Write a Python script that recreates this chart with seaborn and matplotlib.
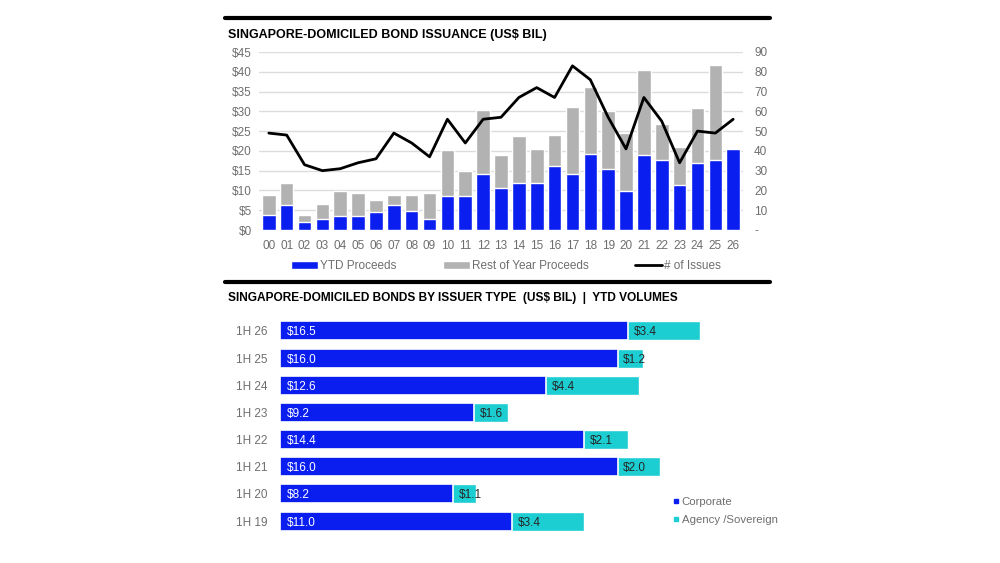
import numpy as np
import pandas as pd
import matplotlib
matplotlib.use("Agg")
import matplotlib.pyplot as plt
from matplotlib.patches import Patch
from matplotlib.lines import Line2D
import seaborn as sns

# ---------------- data ----------------
years = ["00", "01", "02", "03", "04", "05", "06", "07", "08", "09", "10", "11", "12",
         "13", "14", "15", "16", "17", "18", "19", "20", "21", "22", "23", "24", "25", "26"]
ytd_proceeds = [3.8, 6.3, 1.9, 2.9, 3.5, 3.5, 4.5, 6.3, 4.7, 2.7, 8.5, 8.6, 14.1,
                10.7, 11.9, 11.9, 16.1, 14.1, 19.3, 15.5, 9.8, 18.9, 17.8, 11.3, 16.9, 17.7, 20.6]
rest_of_year = [5.0, 5.6, 1.9, 3.6, 6.3, 5.8, 3.2, 2.6, 4.1, 6.6, 11.7, 6.4, 16.2,
                8.2, 11.9, 8.6, 8.0, 16.9, 16.9, 14.7, 14.8, 21.6, 9.1, 9.7, 14.0, 24.0, 0.0]
num_issues = [49, 48, 33, 30, 31, 34, 36, 49, 44, 37, 56, 44, 56,
              57, 67, 72, 67, 83, 76, 57, 41, 67, 55, 34, 50, 49, 56]

periods = ["1H 26", "1H 25", "1H 24", "1H 23", "1H 22", "1H 21", "1H 20", "1H 19"]
corporate = [16.5, 16.0, 12.6, 9.2, 14.4, 16.0, 8.2, 11.0]
agency = [3.4, 1.2, 4.4, 1.6, 2.1, 2.0, 1.1, 3.4]

# ---------------- style ----------------
BLUE = "#0A1EF0"
GRAY = "#B2B2B2"
CYAN = "#1CCDD2"
TXT = "#6E6E6E"
GRID = "#DCDCDC"

sns.set_theme(style="white")
plt.rcParams["font.family"] = ["Liberation Sans", "DejaVu Sans"]
plt.rcParams["font.size"] = 8

W, H = 1000, 563
fig = plt.figure(figsize=(10, 5.63), dpi=100)


def fx(px):
    return px / W


def fy(py):
    return 1 - py / H


# ---------------- top chart ----------------
df_top = pd.DataFrame({"year": years, "ytd": ytd_proceeds, "rest": rest_of_year})
df_top["total"] = df_top["ytd"] + df_top["rest"]

ax = fig.add_axes([fx(259), fy(230), fx(743) - fx(259), fy(52) - fy(230)])
sns.barplot(data=df_top, x="year", y="total", color=GRAY, width=0.76,
            saturation=1, ax=ax, zorder=2)
sns.barplot(data=df_top, x="year", y="ytd", color=BLUE, width=0.76,
            saturation=1, ax=ax, zorder=3)
ax.set_ylim(0, 45)
ax.set_xlim(-0.55, len(years) - 0.45)
ax.set_yticks(np.arange(0, 46, 5))
ax.set_yticklabels([f"${v}" for v in range(0, 46, 5)])
ax.yaxis.grid(True, color=GRID, linewidth=1, zorder=0)
ax.set_axisbelow(True)
ax.set_xlabel("")
ax.set_ylabel("")
for s in ax.spines.values():
    s.set_visible(False)
ax.tick_params(axis="both", length=0, colors=TXT, labelsize=8.5)
ax.tick_params(axis="x", pad=7)
ax.tick_params(axis="y", pad=5)

ax2 = ax.twinx()
sns.lineplot(x=np.arange(len(years)), y=num_issues, color="black", linewidth=2,
             ax=ax2, zorder=5)
ax2.set_ylim(0, 90)
ax2.set_yticks(np.arange(0, 91, 10))
ax2.set_yticklabels(["-"] + [str(v) for v in range(10, 91, 10)])
ax2.set_xlim(-0.55, len(years) - 0.45)
for s in ax2.spines.values():
    s.set_visible(False)
ax2.tick_params(axis="y", length=0, colors=TXT, labelsize=8.5, pad=8)
ax2.grid(False)

handles = [Patch(facecolor=BLUE), Patch(facecolor=GRAY),
           Line2D([], [], color="black", linewidth=2)]
fig.legend(handles, ["YTD Proceeds", "Rest of Year Proceeds", "# of Issues"],
           ncol=3, loc="center", bbox_to_anchor=(fx(506), fy(266)), frameon=False,
           fontsize=8.5, labelcolor=TXT, handlelength=2.3, handleheight=0.7,
           handletextpad=0.2, columnspacing=3.9)

# rules and titles
fig.add_artist(Line2D([fx(225), fx(770)], [fy(18), fy(18)], color="black", linewidth=3))
fig.add_artist(Line2D([fx(225), fx(770)], [fy(282), fy(282)], color="black", linewidth=3))
fig.text(fx(228), fy(35), "SINGAPORE-DOMICILED BOND ISSUANCE (US$ BIL)",
         fontsize=9, fontweight="bold", color="black", va="center", ha="left")
fig.text(fx(228), fy(298),
         "SINGAPORE-DOMICILED BONDS BY ISSUER TYPE  (US$ BIL)  |  YTD VOLUMES",
         fontsize=8.6, fontweight="bold", color="black", va="center", ha="left")

# ---------------- bottom chart ----------------
df_bot = pd.DataFrame({"period": periods, "corporate": corporate, "agency": agency})
df_bot["total"] = df_bot["corporate"] + df_bot["agency"]

bx = fig.add_axes([fx(280), fy(534.6), 23 * 21.1 / W, fy(317.4) - fy(534.6)])
sns.barplot(data=df_bot, y="period", x="total", color=CYAN, orient="h", width=0.7,
            saturation=1, ax=bx, edgecolor="white", linewidth=1)
sns.barplot(data=df_bot, y="period", x="corporate", color=BLUE, orient="h", width=0.7,
            saturation=1, ax=bx, edgecolor="white", linewidth=1.2)
bx.set_xlim(0, 23)
bx.set_ylim(len(periods) - 0.5, -0.5)
bx.set_xlabel("")
bx.set_ylabel("")
bx.set_xticks([])
for s in bx.spines.values():
    s.set_visible(False)
bx.tick_params(axis="y", length=0, colors=TXT, labelsize=8.5, pad=9)

for i, (c, a) in enumerate(zip(corporate, agency)):
    bx.annotate(f"${c:.1f}", xy=(0, i), xytext=(5, 0), textcoords="offset points",
                color="white", fontsize=8.5, va="center_baseline", ha="left")
    bx.annotate(f"${a:.1f}", xy=(c, i), xytext=(4, 0), textcoords="offset points",
                color="#262626", fontsize=8.5, va="center_baseline", ha="left")

leg_handles = [Line2D([], [], marker="s", linestyle="none", markersize=3.5, color=BLUE),
               Line2D([], [], marker="s", linestyle="none", markersize=3.5, color=CYAN)]
fig.legend(leg_handles, ["Corporate", "Agency /Sovereign"], loc="center left",
           bbox_to_anchor=(fx(667), fy(511)), frameon=False, fontsize=8.2,
           labelcolor=TXT, handlelength=0.6, handletextpad=0.2, labelspacing=0.75,
           borderpad=0)

fig.savefig("out.png", dpi=100, facecolor="white")
